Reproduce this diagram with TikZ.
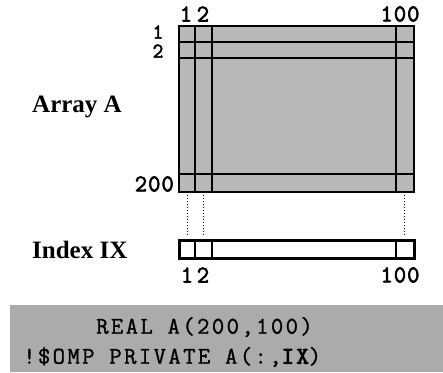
\documentclass[tikz,border=0pt]{standalone}
\usepackage{fontspec}
\setmainfont{Liberation Serif}
\newfontfamily\digfont[LetterSpace=4,FakeBold=2.5]{Latin Modern Mono}
\newfontfamily\codefont[LetterSpace=10,FakeBold=1.2]{Latin Modern Mono}
\newfontfamily\codebold[LetterSpace=10,FakeBold=3.5]{Latin Modern Mono}
\begin{document}
\begin{tikzpicture}[x=1pt,y=-1pt,
  arrfill/.style={fill=black!28},
  codefill/.style={fill=black!33},
  inner/.style={line width=1.5pt},
  digit/.style={font=\digfont\fontsize{24}{17}\selectfont, inner sep=0pt},
  sdigit/.style={font=\digfont\fontsize{21}{17}\selectfont, inner sep=0pt},
  lbl/.style={font=\bfseries\fontsize{25}{25}\selectfont, inner sep=0pt, anchor=west},
  code/.style={font=\codefont\fontsize{24}{24}\selectfont, inner sep=0pt, anchor=west},
  link/.style={dotted, line width=1pt}]
\useasboundingbox (0,0) rectangle (443,372);
% array A
\node (arr) [draw, arrfill, line width=2pt, minimum width=235pt, minimum height=166pt,
  inner sep=0pt, anchor=north west] at (178,25) {};
\draw[inner] (195,25) -- (195,191);
\draw[inner] (212,25) -- (212,191);
\draw[inner] (396,25) -- (396,191);
\draw[inner] (178,42) -- (413,42);
\draw[inner] (178,58) -- (413,58);
\draw[inner] (178,174) -- (413,174);
% index IX
\node (idx) [draw, fill=white, line width=3pt, minimum width=235pt, minimum height=18pt,
  inner sep=0pt, anchor=north west] at (178,239) {};
\draw[inner] (195,239) -- (195,257);
\draw[inner] (212,239) -- (212,257);
\draw[inner] (396,239) -- (396,257);
% links
\coordinate (a1) at (187,192); \coordinate (b1) at (187,237);
\coordinate (a2) at (203,192); \coordinate (b2) at (203,237);
\coordinate (a3) at (404,192); \coordinate (b3) at (404,237);
\draw[link] (a1) -- (b1);
\draw[link] (a2) -- (b2);
\draw[link] (a3) -- (b3);
% digits
\node[digit] (t1) at (186,14) {1};
\node[digit] (t2) at (203,14) {2};
\node[digit] (t100) at (400,14) {100};
\node[sdigit] (l1) at (158,32) {1};
\node[sdigit] (l2) at (158,51) {2};
\node[digit, anchor=east] (l200) at (174,184) {200};
\node[digit] (b1l) at (187,275) {1};
\node[digit] (b2l) at (203,275) {2};
\node[digit] (b100) at (400,275) {100};
% labels
\node[lbl] (arrA) at (32,107) {Array A};
\node[lbl] (ixl) at (32,250) {Index IX};
% code
\node (codebox) [codefill, minimum width=433pt, minimum height=67pt, inner sep=0pt,
  anchor=north west] at (10,305) {};
\node[code] (c1) at (96,327) {REAL A(200,100)};
\node[code] (c2) at (23,357) {!\$OMP PRIVATE A(:,{\codebold IX})};
\end{tikzpicture}
\end{document}
